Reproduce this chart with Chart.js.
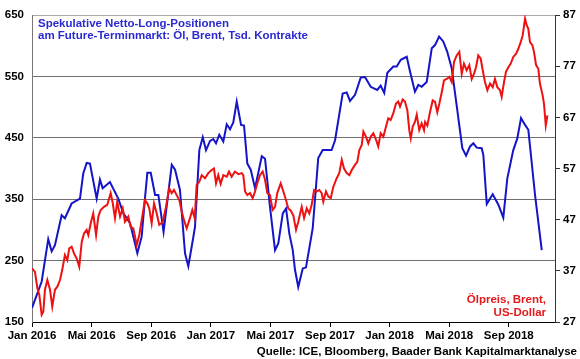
<!DOCTYPE html>
<html>
<head>
<meta charset="utf-8">
<script src="https://cdn.jsdelivr.net/npm/chart.js@4.4.1/dist/chart.umd.min.js"></script>
<style>
  body { margin: 0; background: #fff; }
  #wrap { width: 580px; height: 359px; }
</style>
</head>
<body>
<div id="wrap"><canvas id="myChart" width="580" height="359"></canvas></div>
<script>
// x = months since Jan 2016
const xTickMonths = [0, 4, 8, 12, 16, 20, 24, 28, 32];
const xTickLabels = ['Jan 2016', 'Mai 2016', 'Sep 2016', 'Jan 2017', 'Mai 2017', 'Sep 2017', 'Jan 2018', 'Mai 2018', 'Sep 2018'];
const leftTicks = [150, 250, 350, 450, 550, 650];
const rightTicks = [27, 37, 47, 57, 67, 77, 87];

// net long positions, thousand contracts (left axis)
const blueMonths = [0, 0.65, 1.09, 1.32, 1.54, 1.99, 2.21, 2.66, 3.22, 3.44, 3.67, 3.89, 4.34, 4.56, 4.74, 5.23,
  5.79, 6.13, 6.58, 7.07, 7.36, 7.58, 7.74, 7.97, 8.26, 8.48, 8.83, 9.38, 9.60, 9.93, 10.27, 10.49, 10.72, 10.94,
  11.23, 11.46, 11.68, 11.95, 12.17, 12.35, 12.57, 12.84, 13.07, 13.29, 13.51, 13.74, 14.03, 14.23, 14.45, 14.68,
  14.97, 15.42, 15.64, 15.97, 16.31, 16.53, 16.83, 17.05, 17.27, 17.50, 17.65, 17.87, 18.17, 18.39, 18.84, 19.21,
  19.51, 20.11, 20.34, 20.85, 21.12, 21.34, 21.68, 22.06, 22.35, 22.73, 23.17, 23.40, 23.64, 23.85, 24.25, 24.48,
  24.75, 25.15, 25.37, 25.70, 25.93, 26.15, 26.49, 26.83, 27.05, 27.32, 27.60, 27.87, 28.17, 28.50, 28.88, 29.13,
  29.40, 29.62, 29.85, 30.18, 30.29, 30.52, 30.92, 31.30, 31.63, 31.90, 32.30, 32.57, 32.82, 33.09, 33.31, 33.76, 34.21];
const blueValues = [173, 216, 285, 265, 275, 324, 319, 343, 351, 392, 409, 408, 351, 382, 368, 378,
  351, 327, 311, 262, 289, 351, 393, 393, 357, 357, 297, 406, 398, 365, 262, 241, 273, 305,
  430, 451, 430, 445, 448, 441, 455, 444, 472, 464, 475, 509, 471, 470, 408, 398,
  368, 420, 416, 338, 267, 278, 327, 335, 294, 267, 235, 207, 237, 239, 303, 417,
  430, 430, 446, 522, 524, 510, 520, 548, 549, 533, 528, 535, 523, 556, 566, 566,
  577, 582, 558, 525, 536, 533, 541, 596, 601, 615, 607, 590, 563, 503, 433, 421,
  436, 441, 434, 433, 422, 342, 358, 341, 320, 384, 430, 449, 482, 471, 463, 357, 267];

// Brent price, USD (right axis)
const brentMonths = [0, 0.20, 0.36, 0.49, 0.65, 0.76, 0.87, 1.03, 1.21, 1.36, 1.54, 1.70, 1.88, 2.03, 2.21, 2.37,
  2.50, 2.66, 2.82, 3.00, 3.17, 3.34, 3.49, 3.67, 3.78, 3.94, 4.11, 4.30, 4.45, 4.61, 4.83, 5.05, 5.28, 5.42,
  5.57, 5.72, 5.91, 6.09, 6.24, 6.46, 6.62, 6.80, 7.03, 7.20, 7.36, 7.58, 7.74, 7.87, 8.03, 8.19, 8.37, 8.54,
  8.77, 8.99, 9.21, 9.38, 9.53, 9.71, 9.89, 10.05, 10.20, 10.38, 10.56, 10.76, 10.92, 11.05, 11.23, 11.39, 11.61,
  11.83, 12.06, 12.21, 12.35, 12.50, 12.66, 12.84, 13.07, 13.22, 13.40, 13.62, 13.85, 14.07, 14.18, 14.30, 14.45,
  14.63, 14.81, 14.97, 15.12, 15.30, 15.48, 15.64, 15.79, 15.97, 16.15, 16.31, 16.46, 16.69, 16.87, 17.05, 17.20,
  17.36, 17.54, 17.72, 17.87, 18.10, 18.26, 18.44, 18.61, 18.77, 18.93, 19.11, 19.28, 19.44, 19.55, 19.73, 19.89,
  20.05, 20.22, 20.45, 20.62, 20.79, 20.94, 21.12, 21.30, 21.46, 21.68, 21.83, 21.97, 22.13, 22.24, 22.42, 22.57,
  22.73, 22.91, 23.09, 23.24, 23.40, 23.58, 23.76, 23.91, 24.07, 24.25, 24.43, 24.58, 24.70, 24.88, 25.03, 25.19,
  25.32, 25.42, 25.55, 25.70, 25.82, 25.99, 26.15, 26.31, 26.38, 26.53, 26.71, 26.89, 27.05, 27.20, 27.34, 27.50,
  27.65, 27.83, 28.01, 28.17, 28.32, 28.50, 28.68, 28.84, 28.99, 29.17, 29.35, 29.51, 29.66, 29.80, 29.95, 30.11,
  30.25, 30.40, 30.56, 30.74, 30.92, 31.07, 31.23, 31.41, 31.52, 31.68, 31.81, 31.97, 32.13, 32.30, 32.48, 32.64,
  32.80, 32.93, 33.09, 33.20, 33.31, 33.42, 33.58, 33.69, 33.83, 33.98, 34.09, 34.27, 34.36, 34.48, 34.59];
const brentValues = [37.5, 36.8, 33.6, 32.3, 28.4, 29.0, 33.3, 35.2, 33.3, 30.0, 33.3, 33.9, 35.2, 37.2, 40.1, 39.1,
  41.4, 41.7, 40.4, 39.4, 37.8, 42.7, 44.3, 45.0, 44.0, 46.3, 48.2, 44.0, 47.6, 48.9, 49.5, 49.9, 52.2, 50.2,
  47.3, 50.5, 47.6, 49.2, 46.6, 47.6, 45.6, 45.3, 42.0, 44.0, 46.9, 50.8, 50.2, 49.2, 46.3, 50.2, 48.2, 46.0,
  46.5, 49.5, 53.1, 52.2, 52.8, 51.8, 50.8, 48.6, 46.9, 45.3, 46.9, 48.9, 47.3, 53.8, 54.4, 55.7, 55.1,
  56.1, 56.7, 57.0, 54.1, 55.7, 54.0, 55.7, 55.4, 56.4, 55.4, 56.4, 55.9, 56.1, 55.7, 52.5, 51.8,
  52.2, 51.2, 52.5, 54.1, 55.7, 56.4, 54.8, 52.2, 51.8, 48.9, 49.5, 52.2, 54.1, 52.5, 50.8, 49.2,
  48.8, 47.8, 45.0, 46.6, 49.5, 47.3, 49.2, 48.2, 49.9, 52.8, 52.5, 52.8, 52.2, 50.5, 52.5, 51.5,
  51.2, 53.4, 55.1, 56.1, 58.7, 57.0, 56.1, 55.7, 56.7, 57.7, 58.3, 60.6, 61.6, 64.2, 63.2, 61.9,
  63.2, 63.9, 62.6, 61.3, 63.9, 63.2, 65.2, 66.8, 66.5, 67.8, 69.7, 70.1, 69.1, 70.5, 70.1, 68.4,
  64.5, 62.9, 65.2, 66.1, 67.5, 64.5, 65.8, 64.5, 66.1, 65.4, 68.0, 70.3, 70.0, 68.0, 69.7, 71.9,
  74.2, 74.5, 74.9, 73.9, 77.8, 79.1, 79.8, 75.5, 77.5, 76.2, 77.2, 74.5, 75.5, 76.8, 79.1, 78.5,
  76.2, 73.9, 72.3, 73.6, 72.9, 74.5, 72.9, 72.3, 71.0, 73.9, 75.9, 76.8, 77.5, 78.8, 79.4, 80.4,
  81.7, 83.0, 86.3, 85.0, 84.3, 81.7, 81.1, 79.8, 77.2, 76.5, 73.6, 71.3, 69.7, 65.4, 67.4];

const BLUE = '#1414c8';
const RED = '#ee1111';
const FONT = '"Liberation Sans", Arial, sans-serif';

Chart.defaults.font.family = FONT;
Chart.defaults.font.size = 11.5;
Chart.defaults.font.weight = 'bold';
Chart.defaults.color = '#000';

const textPlugin = {
  id: 'texts',
  afterDraw(chart) {
    const c = chart.ctx;
    const a = chart.chartArea;
    c.save();
    c.font = 'bold 11.5px ' + FONT;
    c.textBaseline = 'middle';
    c.fillStyle = '#2a2ad0';
    c.textAlign = 'left';
    c.fillText('Spekulative Netto-Long-Positionen', a.left + 6, 24);
    c.fillText('am Future-Terminmarkt: Öl, Brent, Tsd. Kontrakte', a.left + 6, 36);
    c.fillStyle = '#e51a1a';
    c.textAlign = 'right';
    c.fillText('Ölpreis, Brent,', a.right - 9, 300);
    c.fillText('US-Dollar', a.right - 9, 313);
    c.fillStyle = '#000';
    c.fillText('Quelle: ICE, Bloomberg, Baader Bank Kapitalmarktanalyse', 577, 352);
    c.restore();
  }
};

const ctx = document.getElementById('myChart').getContext('2d');
const chart = new Chart(ctx, {
  type: 'line',
  data: {
    datasets: [{
      label: 'Ölpreis, Brent',
      data: brentMonths.map((m, i) => ({x: m, y: brentValues[i]})),
      yAxisID: 'y2',
      borderColor: RED,
      borderWidth: 2,
      pointRadius: 0,
      tension: 0,
      fill: false
    }, {
      label: 'Netto-Long-Positionen',
      data: blueMonths.map((m, i) => ({x: m, y: blueValues[i]})),
      yAxisID: 'y',
      borderColor: BLUE,
      borderWidth: 2,
      pointRadius: 0,
      tension: 0,
      fill: false
    }]
  },
  options: {
    responsive: false,
    animation: false,
    layout: { padding: { top: 15, left: 0, right: 0, bottom: 0 } },
    plugins: { legend: { display: false }, tooltip: { enabled: false } },
    scales: {
      x: {
        type: 'linear',
        min: 0,
        max: 35.1,
        afterBuildTicks: s => { s.ticks = xTickMonths.map(v => ({value: v})); },
        afterFit: s => { s.height = 37; },
        ticks: {
          padding: 2,
          maxRotation: 0,
          autoSkip: false,
          callback: v => xTickLabels[xTickMonths.indexOf(v)]
        },
        grid: { drawOnChartArea: false, tickLength: 5, color: '#000' },
        border: { color: '#000' }
      },
      y: {
        position: 'left',
        min: 150,
        max: 650,
        afterBuildTicks: s => { s.ticks = leftTicks.map(v => ({value: v})); },
        afterFit: s => { s.width = 32; },
        ticks: { padding: 8 },
        grid: {
          drawTicks: false,
          color: c => c.tick.value === 150 ? 'rgba(0,0,0,0)' : (c.tick.value === 650 ? '#aaaaaa' : '#707070')
        },
        border: { color: '#777777' }
      },
      y2: {
        position: 'right',
        min: 27,
        max: 87,
        afterBuildTicks: s => { s.ticks = rightTicks.map(v => ({value: v})); },
        afterFit: s => { s.width = 25; },
        ticks: { padding: 3 },
        grid: { drawOnChartArea: false, tickLength: 5, color: '#333' },
        border: { color: '#333' }
      }
    }
  },
  plugins: [textPlugin]
});
</script>
</body>
</html>
